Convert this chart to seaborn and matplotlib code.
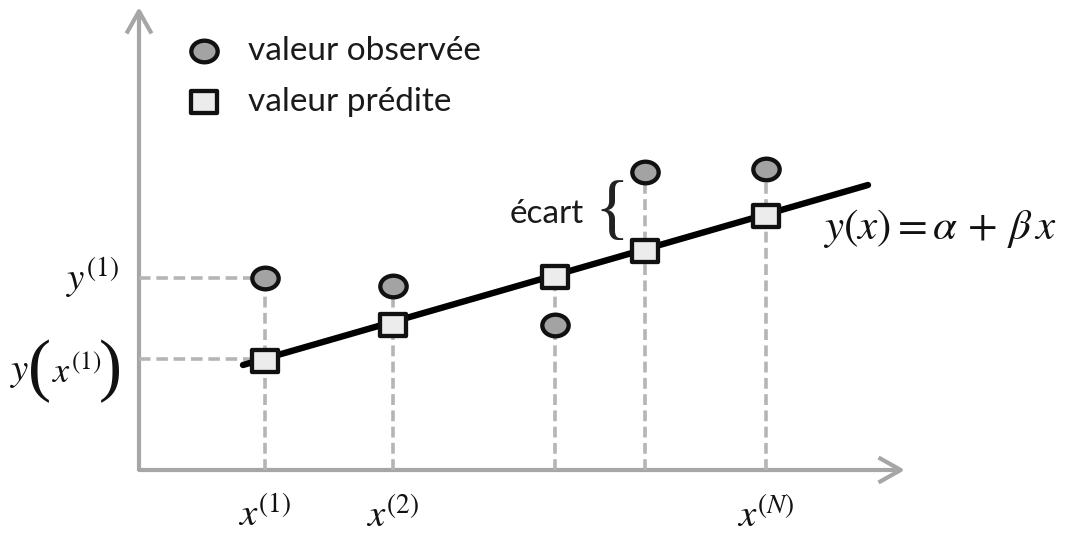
import numpy as np
import matplotlib
matplotlib.use("Agg")
import matplotlib.pyplot as plt
from matplotlib.path import Path
from matplotlib.transforms import Affine2D
import seaborn as sns

# ---------------- data ----------------
x_points = [1.26, 2.54, 4.16, 5.06, 6.27]          # x^(i)
y_observed = [1.92, 1.84, 1.45, 2.98, 3.01]         # valeur observée
y_predicted = [1.09, 1.455, 1.93, 2.19, 2.54]       # valeur prédite
line_x = [1.04, 7.29]                               # regression line ends
line_y = [1.05, 2.85]
x_tick_labels = [r"$x^{(1)}$", r"$x^{(2)}$", "", "", r"$x^{(N)}$"]
y_ref_values = [1.92, 1.11]                         # y^(1), y(x^(1)) guides
legend_labels = ["valeur observée", "valeur prédite"]
equation = r"$y(x) = \alpha\,+\,\beta\,x$"
gap_label = "écart"

# ---------------- style ----------------
sns.set_style("white")
plt.rcParams["font.family"] = ["Lato", "DejaVu Sans"]
plt.rcParams["mathtext.fontset"] = "stix"

fig = plt.figure(figsize=(10.65, 5.33), dpi=100)
ax = fig.add_axes([0, 0, 1, 1])
ax.set_xlim(-1.39, 9.26)
ax.set_ylim(-0.63, 4.70)
ax.axis("off")

axis_grey = "#a6a6a6"
dash_grey = "#b5b5b5"
edge = "#111111"
ink = "#111111"

# axes with arrows
arrow_kw = dict(arrowstyle="->,head_length=0.8,head_width=0.45",
                color=axis_grey, lw=3.0, mutation_scale=20,
                shrinkA=0, shrinkB=0, capstyle="butt")
ax.annotate("", xy=(7.66, 0), xytext=(-0.01, 0), arrowprops=arrow_kw, zorder=1)
ax.annotate("", xy=(0, 4.63), xytext=(0, -0.01), arrowprops=arrow_kw, zorder=1)

# dashed guides
tops = [max(o, p) for o, p in zip(y_observed, y_predicted)]
ax.vlines(x_points, 0, tops, colors=dash_grey, linewidth=2.6,
          linestyles=(0, (3.0, 1.5)), zorder=2)
ax.hlines(y_ref_values, 0, x_points[0], colors=dash_grey, linewidth=2.6,
          linestyles=(0, (3.2, 1.6)), zorder=2)

# regression line
sns.lineplot(x=line_x, y=line_y, color="black", linewidth=4.6, ax=ax,
             zorder=3, legend=False)

# markers
ellipse = Path.unit_circle().transformed(Affine2D().scale(1.0, 0.82))
rect = Path([(-1, -0.875), (1, -0.875), (1, 0.875), (-1, 0.875), (-1, -0.875)],
            [Path.MOVETO, Path.LINETO, Path.LINETO, Path.LINETO, Path.CLOSEPOLY])

sns.scatterplot(x=x_points, y=y_observed, marker=ellipse, s=360,
                color="#a3a3a3", edgecolor=edge, linewidth=3.1, ax=ax,
                zorder=5, label=legend_labels[0])
sns.scatterplot(x=x_points, y=y_predicted, marker=rect, s=350,
                color="#ececec", edgecolor=edge, linewidth=3.1, ax=ax,
                zorder=5, label=legend_labels[1])

leg = ax.legend(loc="upper left", bbox_to_anchor=(185 / 1065, 1 - 36 / 533),
                frameon=False, fontsize=24, handlelength=1.15,
                handletextpad=0.75, labelspacing=0.62, borderpad=0,
                borderaxespad=0, scatterpoints=1)
for t in leg.get_texts():
    t.set_color("#1a1a1a")

# tick-like labels
for xv, lab in zip(x_points, x_tick_labels):
    if lab:
        ax.text(xv, -0.45, lab, ha="center", va="center", fontsize=28,
                color=ink)
ax.text(-0.2, y_ref_values[0], r"$y^{(1)}$", ha="right", va="center",
        fontsize=28, color=ink)
# y(x^(1)) with tall parentheses
ax.text(-1.29, 0.98, r"$y$", ha="left", va="center", fontsize=28, color=ink)
ax.text(-1.11, 0.99, "(", ha="left", va="center", fontsize=50,
        family="Liberation Serif", color=ink)
ax.text(-0.865, 1.00, r"$x^{(1)}$", ha="left", va="center", fontsize=26,
        color=ink)
ax.text(-0.17, 0.99, ")", ha="right", va="center", fontsize=50,
        family="Liberation Serif", color=ink)

# annotations
ax.text(4.45, 2.56, gap_label, ha="right", va="center", fontsize=24,
        color="#1a1a1a")
ax.text(4.73, 2.57, "{", ha="center", va="center", fontsize=52,
        family="Liberation Serif", color="#222222")
ax.text(6.84, 2.42, equation, ha="left", va="center", fontsize=31,
        color=ink)

fig.savefig("out.png", dpi=100)
